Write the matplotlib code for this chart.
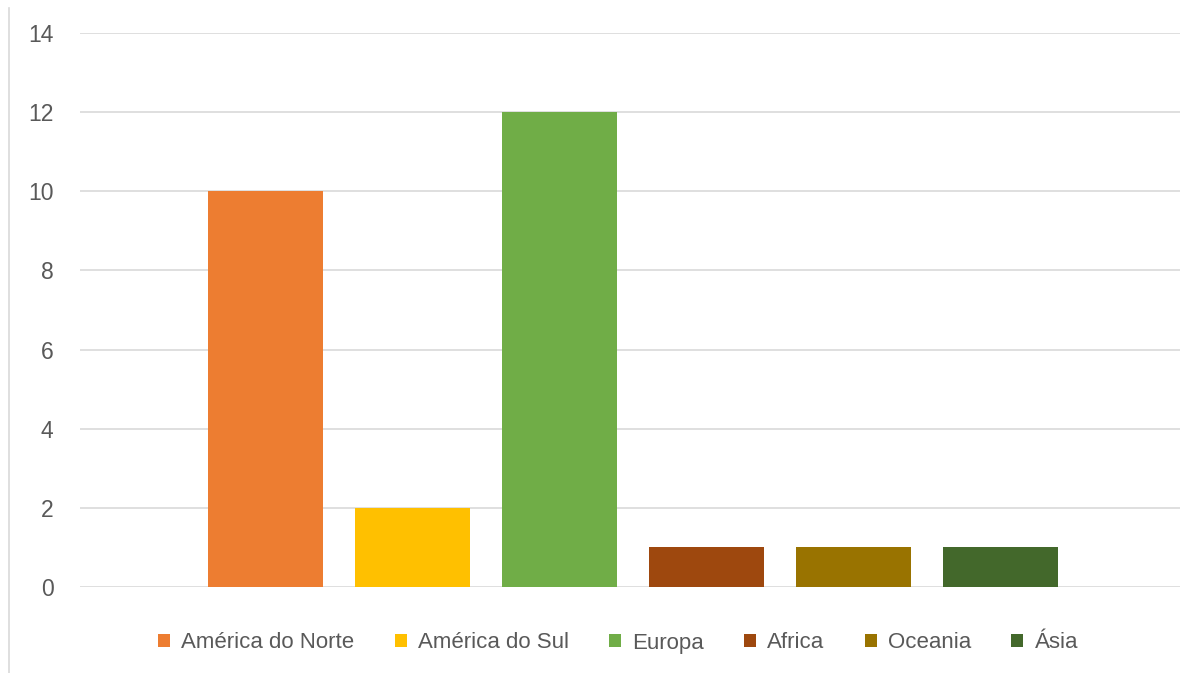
import matplotlib.pyplot as plt
from matplotlib.lines import Line2D
from matplotlib.patches import Patch

regions = ["América do Norte", "América do Sul", "Europa", "Africa", "Oceania", "Ásia"]
counts = [10, 2, 12, 1, 1, 1]
colors = ["#ED7D31", "#FFC000", "#70AD47", "#9E480E", "#997300", "#43682B"]
yticks = [0, 2, 4, 6, 8, 10, 12, 14]

plt.rcParams["font.family"] = ["Liberation Sans", "DejaVu Sans"]

W, H = 1181, 673
fig = plt.figure(figsize=(W / 100, H / 100), dpi=100)
ax = fig.add_axes([80 / W, (H - 587) / H, 1100 / W, 554 / H])

# one category, six series side by side
step = 147.0
xs = list(range(len(regions)))
ax.bar(xs, counts, width=115 / step, color=colors, zorder=2)

center = (len(regions) - 1) / 2
ax.set_xlim(center - 552.5 / step, center + 547.5 / step)
ax.set_ylim(0, 14)
ax.set_yticks(yticks)
ax.set_xticks([])
ax.grid(axis="y", color="#D9D9D9", linewidth=1.2, zorder=0)
for s in ax.spines.values():
    s.set_visible(False)
ax.tick_params(axis="y", length=0, pad=19, labelsize=16.5, labelcolor="#595959")

# chart border on the left
fig.add_artist(Line2D([9 / W, 9 / W], [0, 1 - 8 / H], color="#D9D9D9", linewidth=1.2))

handles = [Patch(facecolor=c, label=r) for r, c in zip(regions, colors)]
fig.legend(handles=handles, loc="center", bbox_to_anchor=(618 / W, (H - 643) / H),
           ncol=6, frameon=False, fontsize=16, labelcolor="#595959",
           handlelength=0.55, handleheight=0.55, handletextpad=0.5, columnspacing=1.8)

fig.savefig("out.png", dpi=100)
